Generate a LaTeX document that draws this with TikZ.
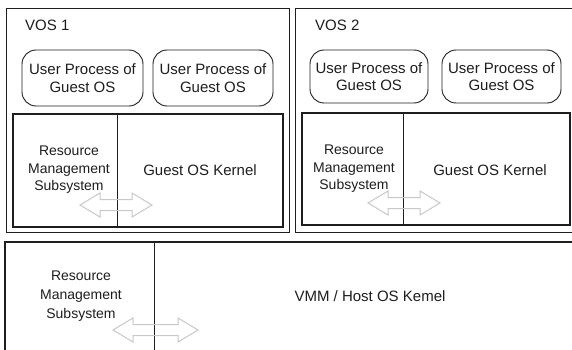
\documentclass[tikz,border=0pt]{standalone}
\usepackage{fontspec}
\setmainfont{Liberation Sans}
\definecolor{ink}{HTML}{1E1E1E}
\definecolor{arrowgray}{HTML}{C8C8C8}
\newcommand\dblarr[3]{%
  \draw[arrowline] ({#1-#3},#2) -- ({#1-#3+20},{#2-12}) -- ({#1-#3+20},{#2-5.5})
    -- ({#1+#3-20},{#2-5.5}) -- ({#1+#3-20},{#2-12}) -- ({#1+#3},#2)
    -- ({#1+#3-20},{#2+12}) -- ({#1+#3-20},{#2+5.5}) -- ({#1-#3+20},{#2+5.5})
    -- ({#1-#3+20},{#2+12}) -- cycle;}
\begin{document}
\begin{tikzpicture}[x=1pt,y=-1pt,
  every node/.style={text=ink, font=\fontsize{15}{17.5}\selectfont, align=center, inner sep=0pt},
  rmstext/.style={font=\fontsize{14}{17.5}\selectfont},
  thinframe/.style={draw=ink, line width=0.9pt},
  thickframe/.style={draw=ink, line width=2.6pt},
  divider/.style={draw=ink, line width=1pt},
  ubox/.style={draw=ink, line width=0.9pt, rounded corners=14pt, minimum height=56pt},
  arrowline/.style={draw=arrowgray, line width=1pt, line join=miter},
  label/.style={anchor=west}]
\useasboundingbox (0,0) rectangle (572,350);
\clip (0,0) rectangle (572,350);
\fill[white] (0,0) rectangle (572,350);

% VOS 1
\draw[thinframe] (6,8) rectangle (289,232);
\node[label] (vos1) at (25,25) {VOS 1};
\node[ubox, minimum width=121pt] (u11) at (82.5,78) {User Process of\\Guest OS};
\node[ubox, minimum width=120pt] (u12) at (213,78) {User Process of\\Guest OS};
\draw[thickframe] (13,114) rectangle (283,227);
\coordinate (d1t) at (117,114);
\coordinate (d1b) at (117,227);
\draw[divider] (d1t) -- (d1b);
\node[rmstext] (rms1) at (69,170) {Resource\\Management\\Subsystem};
\node (gk1) at (200,170) {Guest OS Kernel};
\dblarr{116}{205}{36}

% VOS 2
\draw[thinframe] (295,8) rectangle (590,232);
\node[label] (vos2) at (315,25) {VOS 2};
\node[ubox, minimum width=118pt, minimum height=53pt] (u21) at (369,76.5) {User Process of\\Guest OS};
\node[ubox, minimum width=119pt, minimum height=53pt] (u22) at (501.5,76.5) {User Process of\\Guest OS};
\draw[thickframe] (302,113) rectangle (570,225);
\coordinate (d2t) at (403,113);
\coordinate (d2b) at (403,225);
\draw[divider] (d2t) -- (d2b);
\node[rmstext] (rms2) at (354,169) {Resource\\Management\\Subsystem};
\node (gk2) at (490,170) {Guest OS Kernel};
\dblarr{404}{203}{36}

% Host
\draw[thickframe] (5,242) rectangle (600,380);
\coordinate (d3t) at (154,242);
\coordinate (d3b) at (154,380);
\draw[divider] (d3t) -- (d3b);
\node[font=\fontsize{14}{19}\selectfont] (rms3) at (81,296) {Resource\\Management\\Subsystem};
\node (vmm) at (370,296) {VMM / Host OS Kemel};
\dblarr{155.5}{330}{42.5}
\end{tikzpicture}
\end{document}
